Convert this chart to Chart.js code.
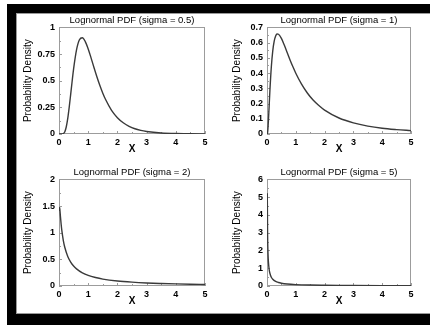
<!DOCTYPE html>
<html>
<head>
<meta charset="utf-8">
<script src="https://cdn.jsdelivr.net/npm/chart.js@4"></script>
<style>
  html, body { margin: 0; padding: 0; background: #fff; }
  body { width: 430px; height: 325px; position: relative; overflow: hidden; }
  #frame { position: absolute; left: 7px; top: 4px; width: 423px; height: 321px; box-sizing: border-box;
    border-left: 9px solid #000; border-top: 9px solid #000; border-bottom: 11px solid #000; }
  #inner { position: absolute; left: 0; top: 0; right: 0; bottom: 0;
    border-left: 1px solid #999; border-top: 1px solid #999; border-bottom: 1px solid #999; }
  canvas { position: absolute; }
</style>
</head>
<body>
<div id="frame"><div id="inner"></div></div>
<canvas id="c1" width="196" height="146" style="left:17px;top:14px"></canvas>
<canvas id="c2" width="204" height="146" style="left:226px;top:14px"></canvas>
<canvas id="c3" width="196" height="146" style="left:17px;top:166px"></canvas>
<canvas id="c4" width="204" height="146" style="left:226px;top:166px"></canvas>
<script>
// x ticks shared by all four panels
const xTicks = [0, 1, 2, 3, 4, 5];

// sigma = 0.5
const x05 = [0, 0.1, 0.15, 0.2, 0.25, 0.3, 0.35, 0.4, 0.45, 0.5, 0.6, 0.7, 0.8, 0.9, 1.0, 1.1, 1.2, 1.3, 1.4, 1.5, 1.6, 1.8, 2.0, 2.2, 2.4, 2.6, 2.8, 3.0, 3.5, 4.0, 4.5, 5.0];
const y05 = [0, 0, 0.004, 0.022, 0.068, 0.146, 0.252, 0.372, 0.495, 0.611, 0.789, 0.884, 0.903, 0.867, 0.798, 0.712, 0.622, 0.535, 0.455, 0.383, 0.321, 0.222, 0.153, 0.105, 0.072, 0.049, 0.034, 0.024, 0.010, 0.004, 0.002, 0.001];
const yTicks05 = [0, 0.25, 0.5, 0.75, 1];

// sigma = 1
const x1 = [0, 0.01, 0.02, 0.03, 0.05, 0.07, 0.1, 0.15, 0.2, 0.25, 0.3, 0.35, 0.4, 0.5, 0.6, 0.7, 0.8, 0.9, 1.0, 1.2, 1.4, 1.6, 1.8, 2.0, 2.5, 3.0, 3.5, 4.0, 4.5, 5.0];
const y1 = [0, 0.001, 0.010, 0.029, 0.090, 0.166, 0.282, 0.440, 0.546, 0.610, 0.644, 0.657, 0.655, 0.628, 0.584, 0.535, 0.486, 0.441, 0.399, 0.327, 0.269, 0.223, 0.187, 0.157, 0.105, 0.073, 0.052, 0.038, 0.029, 0.022];
const yTicks1 = [0, 0.1, 0.2, 0.3, 0.4, 0.5, 0.6, 0.7];

// sigma = 2
const x2 = [0.01, 0.02, 0.03, 0.05, 0.075, 0.1, 0.15, 0.2, 0.3, 0.4, 0.5, 0.6, 0.8, 1.0, 1.25, 1.5, 2.0, 2.5, 3.0, 3.5, 4.0, 4.5, 5.0];
const y2 = [1.408, 1.472, 1.430, 1.299, 1.150, 1.028, 0.848, 0.722, 0.555, 0.449, 0.376, 0.322, 0.248, 0.199, 0.159, 0.130, 0.094, 0.072, 0.057, 0.047, 0.039, 0.033, 0.029];
const yTicks2 = [0, 0.5, 1, 1.5, 2];

// sigma = 5
const x5 = [0.01, 0.02, 0.03, 0.04, 0.05, 0.075, 0.1, 0.15, 0.2, 0.3, 0.4, 0.5, 0.7, 1.0, 1.5, 2.0, 2.5, 3.0, 4.0, 5.0];
const y5 = [5.221, 2.938, 2.080, 1.622, 1.334, 0.930, 0.718, 0.495, 0.379, 0.258, 0.196, 0.158, 0.114, 0.080, 0.053, 0.040, 0.031, 0.026, 0.019, 0.015];
const yTicks5 = [0, 1, 2, 3, 4, 5, 6];

const FONT = "'Liberation Sans', Arial, sans-serif";

// plot box plus small inward tick marks (major and halfway minor)
const boxPlugin = {
  id: 'box',
  beforeDatasetsDraw(chart) {
    const { ctx, chartArea: a, scales } = chart;
    ctx.save();
    ctx.strokeStyle = '#9c9c9c';
    ctx.lineWidth = 1;
    ctx.strokeRect(Math.round(a.left) + 0.5, Math.round(a.top) + 0.5, Math.round(a.width) - 1, Math.round(a.height) - 1);
    ctx.beginPath();
    const xt = scales.x.ticks.map(t => t.value);
    for (let i = 0; i < xt.length; i++) {
      const px = Math.round(scales.x.getPixelForValue(xt[i])) + 0.5;
      ctx.moveTo(px, a.bottom); ctx.lineTo(px, a.bottom - 3);
      if (i < xt.length - 1) {
        const mx = Math.round(scales.x.getPixelForValue((xt[i] + xt[i + 1]) / 2)) + 0.5;
        ctx.moveTo(mx, a.bottom); ctx.lineTo(mx, a.bottom - 2);
      }
    }
    const yt = scales.y.ticks.map(t => t.value);
    for (let i = 0; i < yt.length; i++) {
      const py = Math.round(scales.y.getPixelForValue(yt[i])) + 0.5;
      ctx.moveTo(a.left, py); ctx.lineTo(a.left + 3, py);
      if (i < yt.length - 1) {
        const my = Math.round(scales.y.getPixelForValue((yt[i] + yt[i + 1]) / 2)) + 0.5;
        ctx.moveTo(a.left, my); ctx.lineTo(a.left + 2, my);
      }
    }
    ctx.stroke();
    ctx.restore();
  }
};

function makeChart(id, title, xs, ys, yTicks, padRight, yWidth) {
  const ctx = document.getElementById(id);
  return new Chart(ctx, {
    type: 'line',
    data: {
      datasets: [{
        data: xs.map((x, i) => ({ x: x, y: ys[i] })),
        borderColor: '#3a3a3a',
        borderWidth: 1.4,
        pointRadius: 0,
        fill: false,
        cubicInterpolationMode: 'monotone'
      }]
    },
    options: {
      responsive: false,
      animation: false,
      layout: { padding: { left: 0, right: padRight, top: 0, bottom: 0 } },
      plugins: {
        legend: { display: false },
        tooltip: { enabled: false },
        title: {
          display: true,
          text: title,
          fullSize: false,
          color: '#000',
          font: { family: FONT, size: 9.5, weight: 'normal' },
          padding: { top: 1, bottom: 1 }
        }
      },
      scales: {
        x: {
          type: 'linear',
          min: 0,
          max: 5,
          afterBuildTicks: s => { s.ticks = xTicks.map(v => ({ value: v })); },
          afterFit: s => { s.height = 26; },
          grid: { display: false, drawTicks: false },
          border: { display: false },
          ticks: {
            color: '#000',
            padding: 3,
            maxRotation: 0,
            font: { family: FONT, size: 9, weight: 'bold' },
            callback: v => String(v)
          },
          title: {
            display: true,
            text: 'X',
            color: '#000',
            font: { family: FONT, size: 10, weight: 'bold' },
            padding: { top: 0, bottom: 5 }
          }
        },
        y: {
          type: 'linear',
          min: yTicks[0],
          max: yTicks[yTicks.length - 1],
          afterBuildTicks: s => { s.ticks = yTicks.map(v => ({ value: v })); },
          afterFit: s => { s.width = yWidth; },
          grid: { display: false, drawTicks: false },
          border: { display: false },
          ticks: {
            color: '#000',
            padding: 4,
            font: { family: FONT, size: 9, weight: 'bold' },
            callback: v => String(v)
          },
          title: {
            display: true,
            text: 'Probability Density',
            color: '#000',
            font: { family: FONT, size: 10, weight: 'normal' },
            padding: { top: 5, bottom: 0 }
          }
        }
      }
    },
    plugins: [boxPlugin]
  });
}

makeChart('c1', 'Lognormal PDF (sigma = 0.5)', x05, y05, yTicks05, 8, 42);
makeChart('c2', 'Lognormal PDF (sigma = 1)', x1, y1, yTicks1, 19, 41);
makeChart('c3', 'Lognormal PDF (sigma = 2)', x2, y2, yTicks2, 8, 42);
makeChart('c4', 'Lognormal PDF (sigma = 5)', x5, y5, yTicks5, 19, 41);
</script>
</body>
</html>
